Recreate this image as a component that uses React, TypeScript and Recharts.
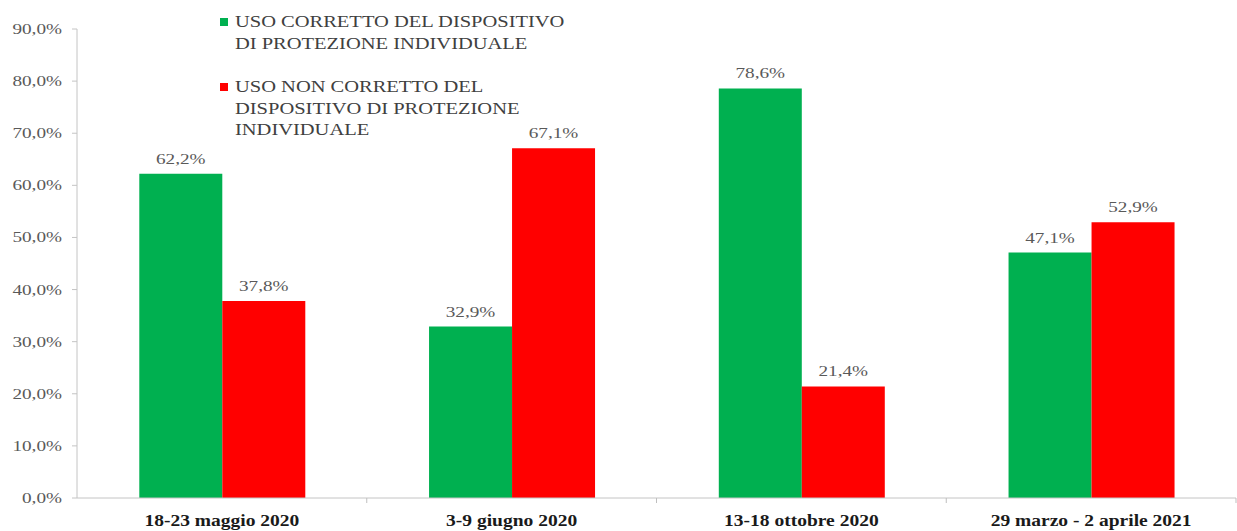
import { Bar, BarChart, LabelList, XAxis, YAxis } from "recharts";

const periods = ["18-23 maggio 2020", "3-9 giugno 2020", "13-18 ottobre 2020", "29 marzo - 2 aprile 2021"];
const corretto = [62.2, 32.9, 78.6, 47.1];
const nonCorretto = [37.8, 67.1, 21.4, 52.9];
const yTicks = [0, 10, 20, 30, 40, 50, 60, 70, 80, 90];

const legendItems = [
  { color: "#00B050", lines: ["USO CORRETTO DEL DISPOSITIVO", "DI PROTEZIONE INDIVIDUALE"] },
  { color: "#FF0000", lines: ["USO NON CORRETTO DEL", "DISPOSITIVO DI PROTEZIONE", "INDIVIDUALE"] },
];

const FONT = "'Liberation Serif', 'Times New Roman', serif";
// the source picture is stretched sideways, so the text is too
const SX = 1.28;

const chartData = periods.map((p, i) => ({
  period: p,
  corretto: corretto[i],
  nonCorretto: nonCorretto[i],
}));

const pct = (v: number) => v.toFixed(1).replace(".", ",") + "%";

function XTick(props: any) {
  const { x, y, payload } = props;
  const half = payload.offset ?? 0;
  return (
    <g>
      <line x1={x + half} x2={x + half} y1={y - 8} y2={y - 3} stroke="#bfbfbf" />
      <text
        transform={`translate(${x},${y + 20}) scale(1.22,1)`}
        textAnchor="middle"
        style={{ fontFamily: FONT }}
        fontSize={16}
        fontWeight="bold"
        fill="#1a1a1a"
      >
        {payload.value}
      </text>
    </g>
  );
}

function YTick(props: any) {
  const { x, y, payload } = props;
  return (
    <text
      transform={`translate(${x},${y + 5}) scale(${SX},1)`}
      textAnchor="end"
      style={{ fontFamily: FONT }}
      fontSize={15}
      fill="#595959"
    >
      {pct(payload.value)}
    </text>
  );
}

function ValueLabel(props: any) {
  const { x, y, width, value } = props;
  return (
    <text
      transform={`translate(${x + width / 2},${y - 10}) scale(${SX},1)`}
      textAnchor="middle"
      style={{ fontFamily: FONT }}
      fontSize={15}
      fill="#595959"
    >
      {pct(value)}
    </text>
  );
}

function LegendBox() {
  const tops = [11, 76];
  return (
    <>
      {legendItems.map((item, i) => (
        <div key={i}>
          <span
            style={{
              position: "absolute",
              left: 220,
              top: tops[i] + 7,
              width: 8,
              height: 8,
              background: item.color,
            }}
          />
          <div
            style={{
              position: "absolute",
              left: 235,
              top: tops[i],
              fontFamily: FONT,
              fontSize: 16,
              lineHeight: "21.5px",
              color: "#404040",
              whiteSpace: "nowrap",
              transform: `scaleX(${SX})`,
              transformOrigin: "left top",
            }}
          >
            {item.lines.map((l) => (
              <div key={l}>{l}</div>
            ))}
          </div>
        </div>
      ))}
    </>
  );
}

export default function App() {
  return (
    <div style={{ position: "absolute", left: 0, top: 0, width: 1237, height: 531, background: "#fff", fontFamily: FONT }}>
      <BarChart
        width={1237}
        height={531}
        data={chartData}
        margin={{ top: 29, right: 1, left: 0, bottom: 0 }}
        barCategoryGap="21.5%"
        barGap={0}
      >
        <XAxis
          dataKey="period"
          height={33}
          stroke="#c4c4c4"
          tickLine={false}
          tick={<XTick />}
          interval={0}
        />
        <YAxis
          width={77}
          domain={[0, 90]}
          ticks={yTicks}
          stroke="#c4c4c4"
          tickSize={5}
          tickMargin={10}
          tick={<YTick />}
        />
        <Bar dataKey="corretto" fill="#00B050" isAnimationActive={false}>
          <LabelList dataKey="corretto" content={<ValueLabel />} />
        </Bar>
        <Bar dataKey="nonCorretto" fill="#FF0000" isAnimationActive={false}>
          <LabelList dataKey="nonCorretto" content={<ValueLabel />} />
        </Bar>
      </BarChart>
      <LegendBox />
    </div>
  );
}
